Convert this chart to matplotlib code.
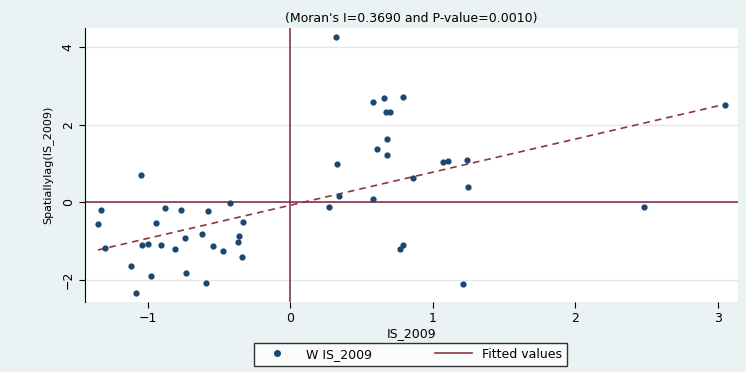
import numpy as np
import matplotlib
matplotlib.use("Agg")
import matplotlib.pyplot as plt
from matplotlib.lines import Line2D

# data
is_2009 = [0.32, 0.58, 0.66, 0.79, 0.67, 0.70, 0.68, 0.61, 0.68, 0.33,
           1.07, 1.11, 1.24, 1.25, 0.86, 0.34, 0.58, 0.27, 3.05, 2.48,
           1.21, 0.79, 0.77,
           -1.05, -1.33, -0.88, -0.77, -0.58, -0.42, -1.35, -0.94, -0.33,
           -1.30, -1.04, -1.00, -0.91, -0.81, -0.74, -0.62, -0.54, -0.47,
           -0.37, -0.36, -0.34, -1.12, -0.98, -0.73, -0.59, -1.08]
w_is_2009 = [4.26, 2.58, 2.69, 2.71, 2.33, 2.33, 1.63, 1.37, 1.21, 0.98,
             1.03, 1.06, 1.09, 0.39, 0.62, 0.16, 0.08, -0.13, 2.51, -0.13,
             -2.12, -1.11, -1.21,
             0.70, -0.21, -0.16, -0.21, -0.23, -0.03, -0.57, -0.54, -0.52,
             -1.19, -1.11, -1.09, -1.11, -1.21, -0.93, -0.83, -1.14, -1.27,
             -1.03, -0.88, -1.42, -1.65, -1.91, -1.83, -2.09, -2.35]
fit_intercept = -0.08
fit_slope = 0.855
title = "(Moran's I=0.3690 and P-value=0.0010)"

bg = "#eaf2f3"
navy = "#1a476f"
maroon = "#90353b"
refline = "#7b2346"

fig = plt.figure(figsize=(7.46, 3.72), dpi=100, facecolor=bg)
ax = fig.add_axes([0.114, 0.188, 0.875, 0.737])
ax.set_facecolor("white")

x = np.array(is_2009)
y = np.array(w_is_2009)
ax.scatter(x, y, s=12, color=navy, zorder=3)

xf = np.array([x.min(), x.max()])
ax.plot(xf, fit_intercept + fit_slope * xf, color=maroon, lw=1.2,
        ls=(0, (4, 3)), zorder=2)

ax.axvline(0, color=refline, lw=1.1, zorder=1)
ax.axhline(0, color=refline, lw=1.1, zorder=1)

ax.set_xlim(-1.44, 3.14)
ax.set_ylim(-2.58, 4.5)
ax.set_xticks([-1, 0, 1, 2, 3])
ax.set_yticks([-2, 0, 2, 4])
ax.yaxis.grid(True, color="#e6e6e6", lw=1)
ax.set_axisbelow(True)
for lbl in ax.get_yticklabels():
    lbl.set_rotation(90)
    lbl.set_va("center")
ax.tick_params(labelsize=9, length=4, color="black")
for s in ["top", "right", "bottom"]:
    ax.spines[s].set_visible(False)

ax.set_xlabel("IS_2009", fontsize=9, labelpad=1)
ax.set_ylabel("Spatiallylag(IS_2009)", fontsize=8, labelpad=6)
ax.set_title(title, fontsize=9, pad=4)

handles = [Line2D([], [], marker="o", ls="none", color=navy, markersize=4),
           Line2D([], [], color=maroon, lw=1.2)]
fig.legend(handles, ["W IS_2009", "Fitted values"], loc="lower center",
           bbox_to_anchor=(0.55, 0.0), ncol=2, fontsize=9, frameon=True,
           fancybox=False, edgecolor="black", facecolor="white",
           columnspacing=5, handlelength=3)

fig.savefig("out.png", dpi=100, facecolor=bg)
